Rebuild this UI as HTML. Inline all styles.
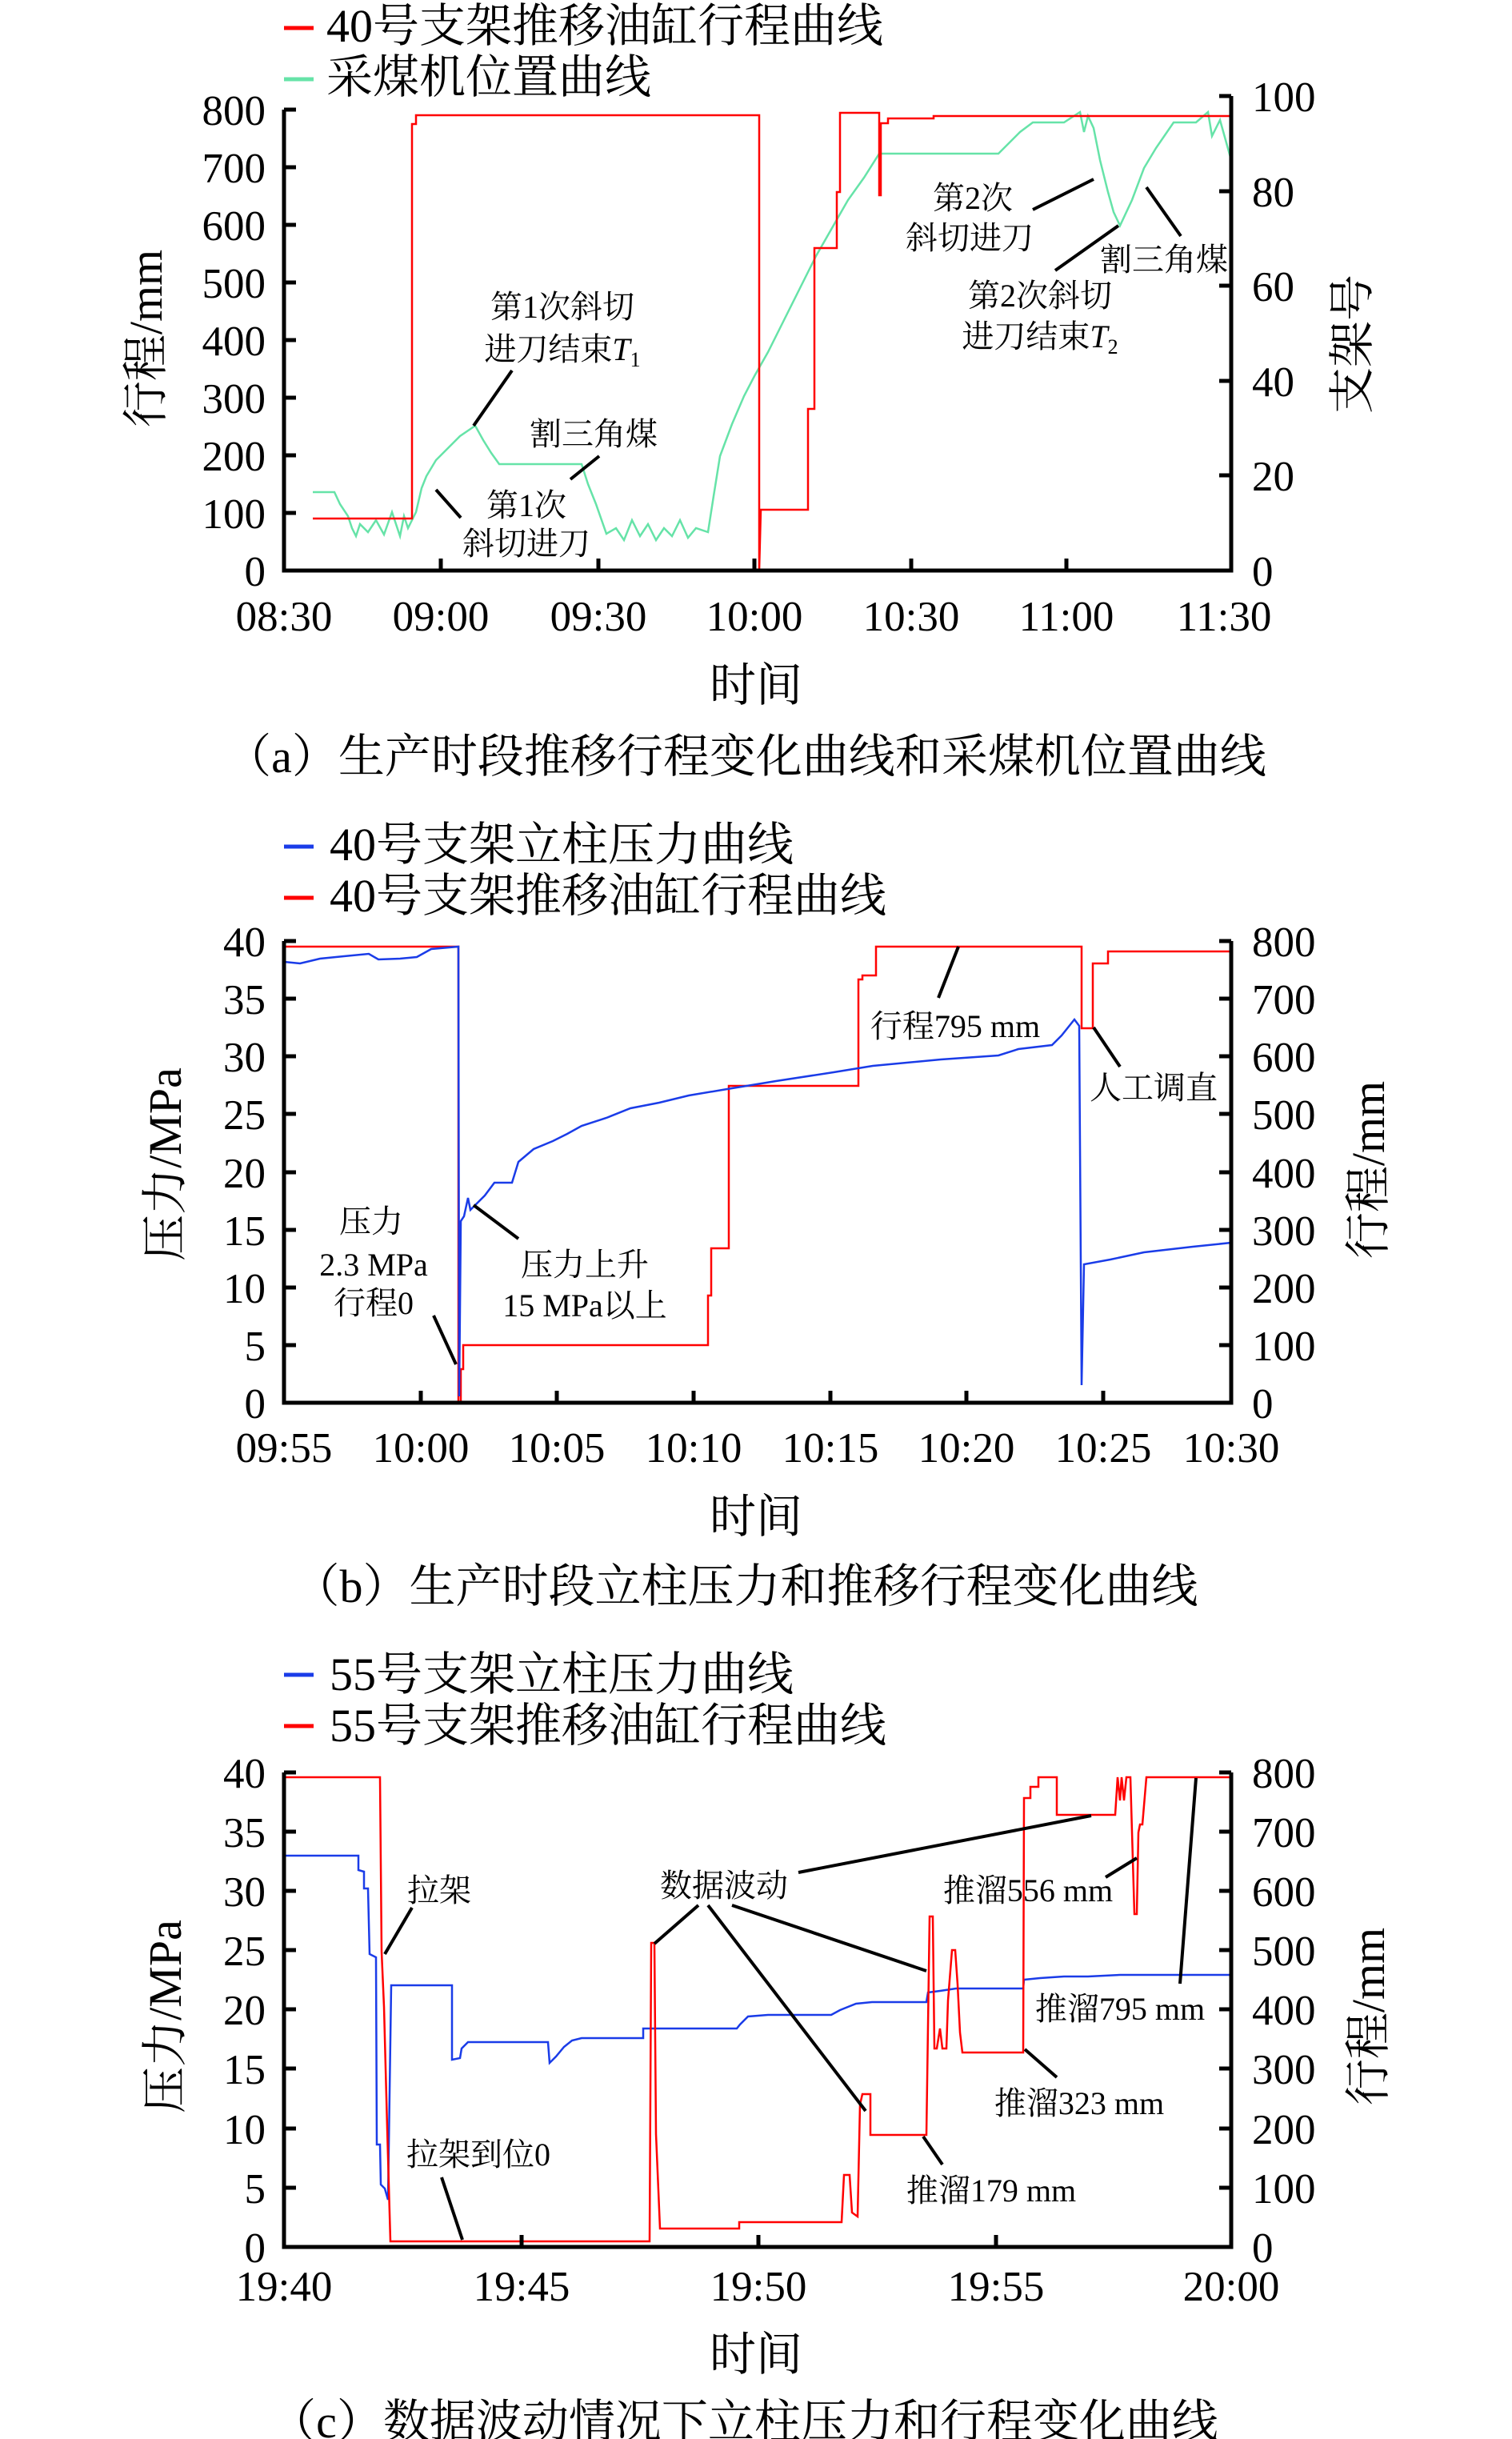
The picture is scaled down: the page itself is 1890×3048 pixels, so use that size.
<!DOCTYPE html>
<html><head><meta charset="utf-8"><style>
html,body{margin:0;padding:0;background:#fff}
svg{display:block}
text{font-family:"Liberation Serif","Noto Serif CJK SC",serif;fill:#000}
.t{font-size:53px}
.l{font-size:58px}
.n{font-size:40px}
.ax{stroke:#000;stroke-width:5;fill:none}
.tk{stroke:#000;stroke-width:5}
.ld{stroke:#000;stroke-width:4}
</style></head><body>
<svg width="1890" height="3048" viewBox="0 0 1890 3048" xmlns="http://www.w3.org/2000/svg">

<!-- ============ PANEL A ============ -->
<line x1="355" y1="35" x2="392" y2="35" stroke="#ff0000" stroke-width="5"/>
<text class="l" x="408" y="52">40号支架推移油缸行程曲线</text>
<line x1="355" y1="99" x2="392" y2="99" stroke="#66e3a8" stroke-width="5"/>
<text class="l" x="408" y="116">采煤机位置曲线</text>

<polyline fill="none" stroke="#66e3a8" stroke-width="2.5" points="391,615 418,615 425,630 435,645 440,660 445,670 450,655 460,665 470,650 480,668 490,640 500,670 505,645 510,660 515,650 520,640 527,610 533,595 545,575 560,560 575,545 594,532 604,550 614,566 624,580 727,580 735,605 745,630 758,667 770,660 780,675 790,650 800,670 810,655 820,675 830,660 840,670 850,650 860,672 870,660 885,665 892,620 900,570 915,530 930,495 943,470 960,440 980,400 1000,360 1020,320 1040,285 1060,250 1080,222 1099,192 1248,192 1260,180 1275,165 1291,153 1330,153 1350,140 1355,165 1360,145 1367,160 1375,200 1385,240 1392,265 1400,282 1415,250 1430,210 1445,185 1467,153 1495,153 1510,140 1515,170 1525,150 1539,200"/>
<polyline fill="none" stroke="#ff0000" stroke-width="2.5" points="391,648 515,648 515,155 520,155 520,144 949,144 949,713 951,637 1010,637 1010,511 1018,511 1018,310 1046,310 1046,240 1050,240 1050,141 1099,141 1099,244 1101,244 1101,154 1110,154 1110,148 1167,148 1167,145 1539,145"/>

<polyline class="ax" points="355,137 355,713 1539,713 1539,120"/>
<g class="tk">
<line x1="355" y1="713" x2="370" y2="713"/><line x1="355" y1="641" x2="370" y2="641"/><line x1="355" y1="569" x2="370" y2="569"/><line x1="355" y1="497" x2="370" y2="497"/><line x1="355" y1="425" x2="370" y2="425"/><line x1="355" y1="353" x2="370" y2="353"/><line x1="355" y1="281" x2="370" y2="281"/><line x1="355" y1="209" x2="370" y2="209"/><line x1="355" y1="137" x2="370" y2="137"/>
<line x1="1524" y1="713" x2="1539" y2="713"/><line x1="1524" y1="594" x2="1539" y2="594"/><line x1="1524" y1="476" x2="1539" y2="476"/><line x1="1524" y1="357" x2="1539" y2="357"/><line x1="1524" y1="239" x2="1539" y2="239"/><line x1="1524" y1="120" x2="1539" y2="120"/>
<line x1="551" y1="713" x2="551" y2="698"/><line x1="748" y1="713" x2="748" y2="698"/><line x1="943" y1="713" x2="943" y2="698"/><line x1="1139" y1="713" x2="1139" y2="698"/><line x1="1333" y1="713" x2="1333" y2="698"/>
</g>
<g class="t" text-anchor="end">
<text x="332" y="732">0</text><text x="332" y="660">100</text><text x="332" y="588">200</text><text x="332" y="516">300</text><text x="332" y="444">400</text><text x="332" y="372">500</text><text x="332" y="300">600</text><text x="332" y="228">700</text><text x="332" y="156">800</text>
</g>
<g class="t">
<text x="1565" y="732">0</text><text x="1565" y="613">20</text><text x="1565" y="495">40</text><text x="1565" y="376">60</text><text x="1565" y="258">80</text><text x="1565" y="139">100</text>
</g>
<g class="t" text-anchor="middle">
<text x="355" y="788">08:30</text><text x="551" y="788">09:00</text><text x="748" y="788">09:30</text><text x="943" y="788">10:00</text><text x="1139" y="788">10:30</text><text x="1333" y="788">11:00</text><text x="1530" y="788">11:30</text>
</g>
<text class="l" text-anchor="middle" transform="translate(202,423) rotate(-90)">行程/mm</text>
<text class="l" text-anchor="middle" transform="translate(1710,430) rotate(-90)">支架号</text>
<text class="l" text-anchor="middle" x="945" y="876">时间</text>
<text class="l" text-anchor="middle" x="932" y="965">（a）生产时段推移行程变化曲线和采煤机位置曲线</text>

<g class="n" text-anchor="middle">
<text x="703" y="397">第1次斜切</text>
<text x="703" y="450">进刀结束<tspan font-style="italic">T</tspan><tspan font-size="26" dy="8">1</tspan></text>
<text x="742" y="556">割三角煤</text>
<text x="658" y="645">第1次</text>
<text x="658" y="693">斜切进刀</text>
<text x="1216" y="261">第2次</text>
<text x="1212" y="311">斜切进刀</text>
<text x="1455" y="338">割三角煤</text>
<text x="1300" y="383">第2次斜切</text>
<text x="1300" y="434">进刀结束<tspan font-style="italic">T</tspan><tspan font-size="26" dy="8">2</tspan></text>
</g>
<g class="ld">
<line x1="640" y1="463" x2="592" y2="532"/>
<line x1="749" y1="570" x2="713" y2="599"/>
<line x1="576" y1="647" x2="545" y2="612"/>
<line x1="1291" y1="262" x2="1367" y2="224"/>
<line x1="1476" y1="295" x2="1433" y2="234"/>
<line x1="1319" y1="338" x2="1398" y2="282"/>
</g>

<!-- ============ PANEL B ============ -->
<line x1="355" y1="1058" x2="392" y2="1058" stroke="#1a3ce8" stroke-width="5"/>
<text class="l" x="412" y="1075">40号支架立柱压力曲线</text>
<line x1="355" y1="1122" x2="392" y2="1122" stroke="#ff0000" stroke-width="5"/>
<text class="l" x="412" y="1139">40号支架推移油缸行程曲线</text>

<polyline fill="none" stroke="#ff0000" stroke-width="2.5" points="355,1183 573,1183 573,1753 576,1753 576,1711 579,1711 579,1681 885,1681 885,1619 889,1619 889,1560 911,1560 911,1357 1073,1357 1073,1224 1078,1224 1078,1219 1095,1219 1095,1183 1352,1183 1352,1285 1366,1285 1366,1204 1385,1204 1385,1189 1539,1189"/>
<polyline fill="none" stroke="#1a3ce8" stroke-width="2.5" points="355,1202 375,1204 400,1198 430,1195 461,1192 473,1199 500,1198 521,1196 539,1186 573,1183 574,1745 576,1526 580,1520 585,1497 588,1512 594,1506 606,1494 618,1478 640,1478 648,1452 667,1436 691,1426 709,1417 727,1407 758,1397 788,1385 824,1378 861,1369 909,1361 970,1351 1042,1340 1091,1332 1176,1324 1248,1319 1273,1311 1315,1306 1327,1294 1343,1274 1349,1282 1352,1731 1355,1580 1388,1574 1430,1565 1491,1558 1539,1553"/>

<polyline class="ax" points="355,1176 355,1753 1539,1753 1539,1176"/>
<g class="tk">
<line x1="355" y1="1753" x2="370" y2="1753"/><line x1="355" y1="1681" x2="370" y2="1681"/><line x1="355" y1="1609" x2="370" y2="1609"/><line x1="355" y1="1537" x2="370" y2="1537"/><line x1="355" y1="1465" x2="370" y2="1465"/><line x1="355" y1="1392" x2="370" y2="1392"/><line x1="355" y1="1320" x2="370" y2="1320"/><line x1="355" y1="1248" x2="370" y2="1248"/><line x1="355" y1="1176" x2="370" y2="1176"/>
<line x1="1524" y1="1753" x2="1539" y2="1753"/><line x1="1524" y1="1681" x2="1539" y2="1681"/><line x1="1524" y1="1609" x2="1539" y2="1609"/><line x1="1524" y1="1537" x2="1539" y2="1537"/><line x1="1524" y1="1465" x2="1539" y2="1465"/><line x1="1524" y1="1392" x2="1539" y2="1392"/><line x1="1524" y1="1320" x2="1539" y2="1320"/><line x1="1524" y1="1248" x2="1539" y2="1248"/><line x1="1524" y1="1176" x2="1539" y2="1176"/>
<line x1="526" y1="1753" x2="526" y2="1738"/><line x1="696" y1="1753" x2="696" y2="1738"/><line x1="867" y1="1753" x2="867" y2="1738"/><line x1="1038" y1="1753" x2="1038" y2="1738"/><line x1="1208" y1="1753" x2="1208" y2="1738"/><line x1="1379" y1="1753" x2="1379" y2="1738"/>
</g>
<g class="t" text-anchor="end">
<text x="332" y="1772">0</text><text x="332" y="1700">5</text><text x="332" y="1628">10</text><text x="332" y="1556">15</text><text x="332" y="1484">20</text><text x="332" y="1411">25</text><text x="332" y="1339">30</text><text x="332" y="1267">35</text><text x="332" y="1195">40</text>
</g>
<g class="t">
<text x="1565" y="1772">0</text><text x="1565" y="1700">100</text><text x="1565" y="1628">200</text><text x="1565" y="1556">300</text><text x="1565" y="1484">400</text><text x="1565" y="1411">500</text><text x="1565" y="1339">600</text><text x="1565" y="1267">700</text><text x="1565" y="1195">800</text>
</g>
<g class="t" text-anchor="middle">
<text x="355" y="1827">09:55</text><text x="526" y="1827">10:00</text><text x="696" y="1827">10:05</text><text x="867" y="1827">10:10</text><text x="1038" y="1827">10:15</text><text x="1208" y="1827">10:20</text><text x="1379" y="1827">10:25</text><text x="1539" y="1827">10:30</text>
</g>
<text class="l" text-anchor="middle" transform="translate(226,1455) rotate(-90)">压力/MPa</text>
<text class="l" text-anchor="middle" transform="translate(1730,1462) rotate(-90)">行程/mm</text>
<text class="l" text-anchor="middle" x="945" y="1915">时间</text>
<text class="l" text-anchor="middle" x="932" y="2002">（b）生产时段立柱压力和推移行程变化曲线</text>

<g class="n" text-anchor="middle">
<text x="1194" y="1296">行程795 mm</text>
<text x="1442" y="1373">人工调直</text>
<text x="464" y="1540">压力</text>
<text x="467" y="1594">2.3 MPa</text>
<text x="467" y="1642">行程0</text>
<text x="731" y="1594">压力上升</text>
<text x="731" y="1645">15 MPa以上</text>
</g>
<g class="ld">
<line x1="1198" y1="1183" x2="1173" y2="1247"/>
<line x1="1367" y1="1284" x2="1400" y2="1333"/>
<line x1="542" y1="1644" x2="570" y2="1705"/>
<line x1="592" y1="1506" x2="648" y2="1548"/>
</g>

<!-- ============ PANEL C ============ -->
<line x1="355" y1="2093" x2="392" y2="2093" stroke="#1a3ce8" stroke-width="5"/>
<text class="l" x="412" y="2112">55号支架立柱压力曲线</text>
<line x1="355" y1="2157" x2="392" y2="2157" stroke="#ff0000" stroke-width="5"/>
<text class="l" x="412" y="2176">55号支架推移油缸行程曲线</text>

<polyline fill="none" stroke="#1a3ce8" stroke-width="2.5" points="355,2319 448,2319 448,2337 455,2339 455,2360 460,2360 462,2442 470,2446 471,2680 475,2680 476,2730 481,2735 485,2749 489,2481 565,2481 565,2574 575,2572 577,2560 585,2552 685,2552 687,2578 695,2570 705,2558 715,2550 727,2547 804,2547 804,2535 921,2535 925,2530 935,2520 960,2518 1039,2518 1050,2512 1070,2504 1090,2502 1158,2502 1160,2490 1175,2488 1195,2485 1279,2485 1280,2474 1300,2472 1330,2470 1360,2470 1400,2468 1539,2468"/>
<polyline fill="none" stroke="#ff0000" stroke-width="2.5" points="355,2221 475,2221 477,2439 480,2508 484,2660 488,2801 812,2801 814,2428 818,2428 820,2667 825,2785 924,2785 924,2777 1052,2777 1055,2718 1062,2718 1065,2765 1072,2770 1075,2630 1078,2617 1088,2617 1088,2668 1158,2668 1162,2395 1166,2395 1168,2560 1171,2560 1175,2535 1178,2560 1183,2560 1185,2500 1190,2437 1194,2437 1197,2480 1200,2540 1203,2565 1279,2565 1280,2247 1288,2247 1288,2233 1298,2233 1298,2221 1321,2221 1321,2268 1394,2268 1397,2221 1400,2250 1402,2221 1405,2250 1408,2221 1413,2221 1418,2392 1421,2392 1423,2290 1425,2280 1428,2280 1433,2221 1539,2221"/>

<polyline class="ax" points="355,2215 355,2808 1539,2808 1539,2215"/>
<g class="tk">
<line x1="355" y1="2808" x2="370" y2="2808"/><line x1="355" y1="2734" x2="370" y2="2734"/><line x1="355" y1="2660" x2="370" y2="2660"/><line x1="355" y1="2585" x2="370" y2="2585"/><line x1="355" y1="2511" x2="370" y2="2511"/><line x1="355" y1="2437" x2="370" y2="2437"/><line x1="355" y1="2363" x2="370" y2="2363"/><line x1="355" y1="2289" x2="370" y2="2289"/><line x1="355" y1="2215" x2="370" y2="2215"/>
<line x1="1524" y1="2808" x2="1539" y2="2808"/><line x1="1524" y1="2734" x2="1539" y2="2734"/><line x1="1524" y1="2660" x2="1539" y2="2660"/><line x1="1524" y1="2585" x2="1539" y2="2585"/><line x1="1524" y1="2511" x2="1539" y2="2511"/><line x1="1524" y1="2437" x2="1539" y2="2437"/><line x1="1524" y1="2363" x2="1539" y2="2363"/><line x1="1524" y1="2289" x2="1539" y2="2289"/><line x1="1524" y1="2215" x2="1539" y2="2215"/>
<line x1="652" y1="2808" x2="652" y2="2793"/><line x1="948" y1="2808" x2="948" y2="2793"/><line x1="1245" y1="2808" x2="1245" y2="2793"/>
</g>
<g class="t" text-anchor="end">
<text x="332" y="2827">0</text><text x="332" y="2753">5</text><text x="332" y="2679">10</text><text x="332" y="2604">15</text><text x="332" y="2530">20</text><text x="332" y="2456">25</text><text x="332" y="2382">30</text><text x="332" y="2308">35</text><text x="332" y="2234">40</text>
</g>
<g class="t">
<text x="1565" y="2827">0</text><text x="1565" y="2753">100</text><text x="1565" y="2679">200</text><text x="1565" y="2604">300</text><text x="1565" y="2530">400</text><text x="1565" y="2456">500</text><text x="1565" y="2382">600</text><text x="1565" y="2308">700</text><text x="1565" y="2234">800</text>
</g>
<g class="t" text-anchor="middle">
<text x="355" y="2875">19:40</text><text x="652" y="2875">19:45</text><text x="948" y="2875">19:50</text><text x="1245" y="2875">19:55</text><text x="1539" y="2875">20:00</text>
</g>
<text class="l" text-anchor="middle" transform="translate(226,2520) rotate(-90)">压力/MPa</text>
<text class="l" text-anchor="middle" transform="translate(1730,2520) rotate(-90)">行程/mm</text>
<text class="l" text-anchor="middle" x="945" y="2962">时间</text>
<text class="l" text-anchor="middle" x="930" y="3046">（c）数据波动情况下立柱压力和行程变化曲线</text>

<g class="n" text-anchor="middle">
<text x="549" y="2376">拉架</text>
<text x="598" y="2706">拉架到位0</text>
<text x="905" y="2370">数据波动</text>
<text x="1285" y="2376">推溜556 mm</text>
<text x="1400" y="2524">推溜795 mm</text>
<text x="1349" y="2642">推溜323 mm</text>
<text x="1239" y="2751">推溜179 mm</text>
</g>
<g class="ld">
<line x1="515" y1="2384" x2="481" y2="2442"/>
<line x1="552" y1="2721" x2="578" y2="2799"/>
<line x1="873" y1="2381" x2="818" y2="2429"/>
<line x1="885" y1="2381" x2="1082" y2="2638"/>
<line x1="915" y1="2381" x2="1158" y2="2463"/>
<line x1="998" y1="2340" x2="1364" y2="2269"/>
<line x1="1382" y1="2346" x2="1421" y2="2322"/>
<line x1="1475" y1="2479" x2="1495" y2="2222"/>
<line x1="1321" y1="2596" x2="1281" y2="2561"/>
<line x1="1178" y1="2705" x2="1154" y2="2670"/>
</g>
</svg>
</body></html>
